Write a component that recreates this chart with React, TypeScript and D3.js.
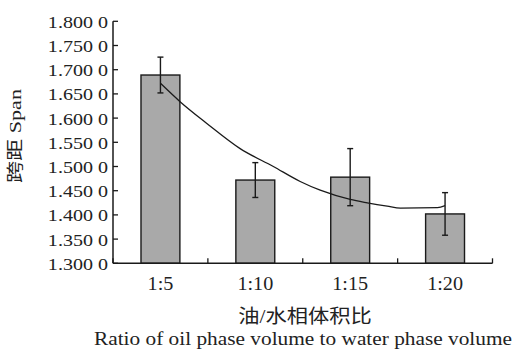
import React from "react";
import * as d3 from "d3";

const categories = ["1:5", "1:10", "1:15", "1:20"];
const values = [1.689, 1.472, 1.478, 1.402];
const errors = [0.037, 0.036, 0.059, 0.044];
const yTicks = [1.3, 1.35, 1.4, 1.45, 1.5, 1.55, 1.6, 1.65, 1.7, 1.75, 1.8];
// fitted trend curve, x in category-index units
const curveX = [0, 0.207, 0.489, 0.84, 1.19, 1.473, 1.684, 2.0, 2.18, 2.39, 2.53, 2.92, 3.0];
const curveY = [1.672, 1.634, 1.589, 1.537, 1.5, 1.469, 1.451, 1.432, 1.425, 1.418, 1.414, 1.415, 1.419];

const W = 516, H = 350;
const left = 113, right = 492.5, top = 21.3, bottom = 263.3;
const font = "'Liberation Serif', 'Times New Roman', 'Noto Sans CJK SC', serif";
const ink = "#1a1a1a";

export default function App() {
  const x = d3.scaleBand<string>().domain(categories).range([left, right]).padding(0);
  const xl = d3.scaleLinear().domain([-0.5, 3.5]).range([left, right]);
  const y = d3.scaleLinear().domain([1.3, 1.8]).range([bottom, top]);
  const bw = x.bandwidth() * 0.41;
  const line = d3
    .line<number>()
    .x((d) => xl(curveX[d]))
    .y((d) => y(curveY[d]))
    .curve(d3.curveMonotoneX);
  const fmt = (v: number) => v.toFixed(3) + " 0";
  const bounds = [...categories.map((c) => x(c)!), right];

  return (
    <svg width={W} height={H} style={{ position: "absolute", left: 0, top: 0, background: "#fff" }} fontFamily={font}>
      {categories.map((c, i) => {
        const cx = x(c)! + x.bandwidth() / 2;
        return (
          <g key={c}>
            <rect x={cx - bw / 2} y={y(values[i])} width={bw} height={bottom - y(values[i])} fill="#a9a9a9" stroke={ink} strokeWidth={1.4} />
          </g>
        );
      })}
      <path d={line(curveX.map((_, i) => i)) || ""} fill="none" stroke={ink} strokeWidth={1.3} />
      {categories.map((c, i) => {
        const cx = x(c)! + x.bandwidth() / 2;
        const hi = y(values[i] + errors[i]);
        const lo = y(values[i] - errors[i]);
        return (
          <g key={"e" + c} stroke={ink} strokeWidth={1.4}>
            <line x1={cx} x2={cx} y1={hi} y2={lo} />
            <line x1={cx - 3} x2={cx + 3} y1={hi} y2={hi} />
            <line x1={cx - 3} x2={cx + 3} y1={lo} y2={lo} />
          </g>
        );
      })}
      {/* axes */}
      <line x1={left} x2={left} y1={top} y2={bottom} stroke={ink} strokeWidth={1.5} />
      <line x1={left} x2={right} y1={bottom} y2={bottom} stroke={ink} strokeWidth={1.5} />
      {yTicks.map((t) => (
        <g key={t}>
          <line x1={left} x2={left + 5} y1={y(t)} y2={y(t)} stroke={ink} strokeWidth={1.3} />
          <text transform={`translate(108,${y(t) + 6.5}) scale(1.18,1)`} textAnchor="end" fontSize={17} fill="#222">{fmt(t)}</text>
        </g>
      ))}
      {bounds.map((b, i) => (
        <line key={i} x1={b} x2={b} y1={bottom} y2={bottom - 5} stroke={ink} strokeWidth={1.3} />
      ))}
      {categories.map((c) => (
        <text key={"t" + c} transform={`translate(${x(c)! + x.bandwidth() / 2},290) scale(1.12,1)`} textAnchor="middle" fontSize={18} fill="#222">{c}</text>
      ))}
      <text transform="translate(305,323) scale(1.12,1)" textAnchor="middle" fontSize={19} fill="#222">油/水相体积比</text>
      <text x={303} y={345} textAnchor="middle" fontSize={19} textLength={418} lengthAdjust="spacingAndGlyphs" fill="#222">Ratio of oil phase volume to water phase volume</text>
      <text transform="translate(21,136) rotate(-90)" textAnchor="middle" fontSize={17} textLength={94} lengthAdjust="spacingAndGlyphs" fill="#222">跨距 Span</text>
    </svg>
  );
}
